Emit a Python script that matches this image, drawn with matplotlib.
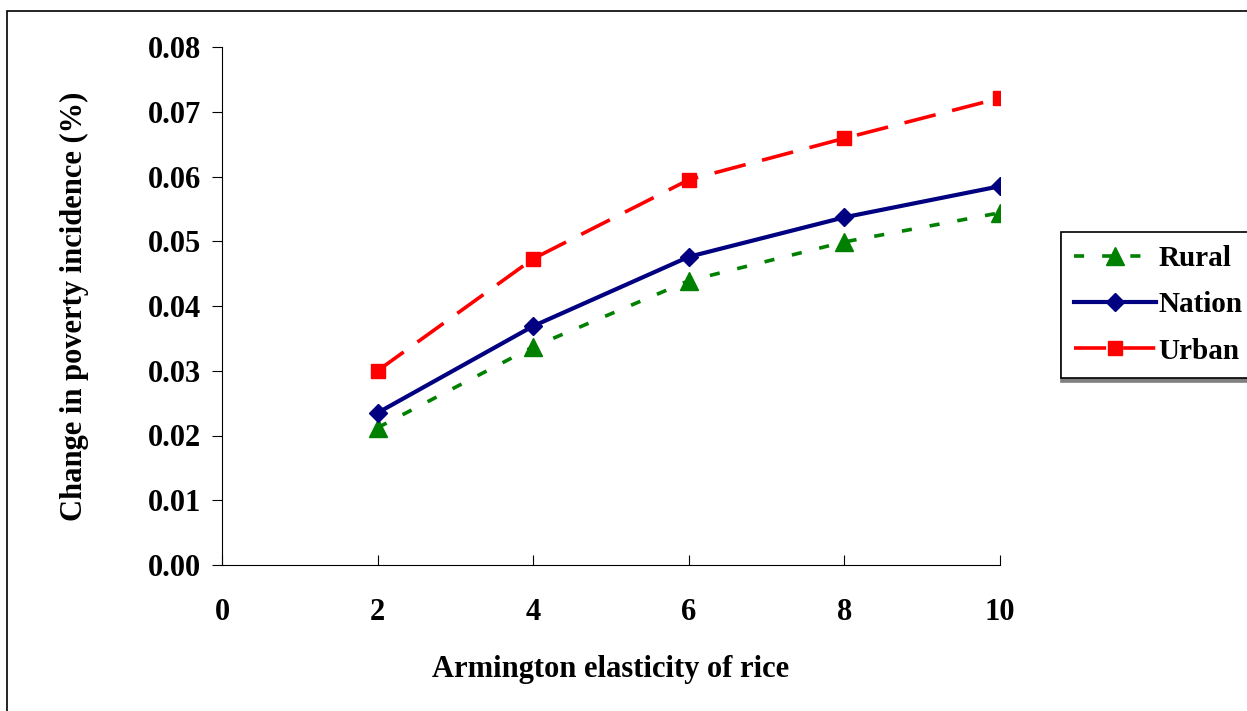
import matplotlib.pyplot as plt
from matplotlib.patches import Rectangle

plt.rcParams['font.family'] = ['Liberation Serif', 'DejaVu Serif']
plt.rcParams['font.weight'] = 'bold'

elasticity = [2, 4, 6, 8, 10]
rural = [0.0212, 0.0337, 0.0439, 0.0499, 0.0544]
nation = [0.0235, 0.0369, 0.0476, 0.0537, 0.0585]
urban = [0.0300, 0.0473, 0.0595, 0.0659, 0.0721]

x_ticks = [0, 2, 4, 6, 8, 10]
y_ticks = [0.00, 0.01, 0.02, 0.03, 0.04, 0.05, 0.06, 0.07, 0.08]

fig = plt.figure(figsize=(12.47, 7.11), dpi=100)
ax = fig.add_axes([222 / 1247, 1 - 565 / 711, 778 / 1247, 518 / 711])

# outer chart border (right and bottom run off the image)
fig.patches.append(Rectangle((7 / 1247, -0.05), 1.2, 1 - 11 / 711 + 0.05,
                             transform=fig.transFigure, fill=False,
                             edgecolor='black', linewidth=1.2))

ax.plot(elasticity, rural, color='#008000', linestyle=(0, (2.8, 5)), linewidth=2.6,
        marker='^', markersize=13, label='Rural')
ax.plot(elasticity, nation, color='#000080', linestyle='-', linewidth=3,
        marker='D', markersize=9.5, label='Nation')
ax.plot(elasticity, urban, color='#ff0000', linestyle=(0, (8.9, 4.7)), linewidth=2.6,
        marker='s', markersize=10.5, label='Urban')

ax.set_xlim(0, 10)
ax.set_ylim(0, 0.08)
ax.set_xticks(x_ticks)
ax.set_yticks(y_ticks)
ax.set_yticklabels([f'{v:.2f}' for v in y_ticks])
ax.spines['top'].set_visible(False)
ax.spines['right'].set_visible(False)
ax.tick_params(axis='x', direction='in', length=7, pad=24, labelsize=22)
ax.tick_params(axis='y', direction='out', length=7, pad=8, labelsize=22)
ax.set_xlabel('Armington elasticity of rice', fontsize=22, fontweight='bold', labelpad=20)
ax.set_ylabel('Change in poverty incidence (%)', fontsize=22, fontweight='bold', labelpad=42)

leg = fig.legend(loc='upper left', bbox_to_anchor=(1061 / 1247, 1 - 232 / 711),
                 fontsize=21, frameon=True, fancybox=False, edgecolor='black',
                 handlelength=2.8, handletextpad=0.1, labelspacing=0.66,
                 borderpad=0.45, borderaxespad=0,
                 shadow={'ox': 0, 'oy': -3, 'color': 'gray', 'alpha': 1})
leg.get_frame().set_linewidth(1.2)

fig.savefig('out.png', dpi=100)
